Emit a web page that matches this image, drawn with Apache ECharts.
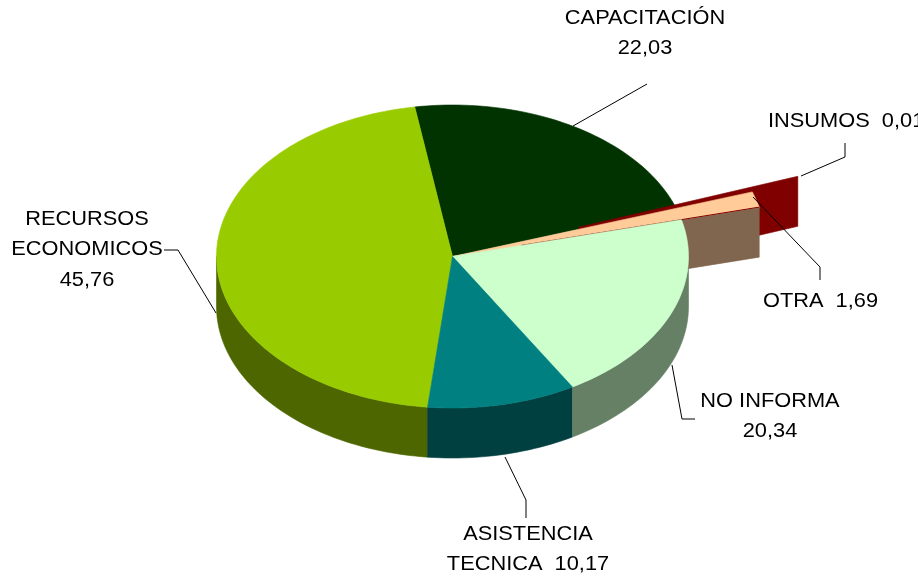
<!DOCTYPE html>
<html>
<head>
<meta charset="utf-8">
<style>html,body{margin:0;padding:0;background:#fff}#c{width:918px;height:580px}</style>
<script src="https://cdn.jsdelivr.net/npm/echarts@6/dist/echarts.min.js"></script>
</head>
<body>
<div id="c"></div>
<script>
// ---- data ----
const categories = ['CAPACITACIÓN', 'INSUMOS', 'OTRA', 'NO INFORMA', 'ASISTENCIA\nTECNICA', 'RECURSOS\nECONOMICOS'];
const values = [22.03, 0.01, 1.69, 20.34, 10.17, 45.76];
const separators = ['\n', '  ', '  ', '\n', '  ', '\n'];

// ---- styles and geometry ----
const topColors = ['#003300', '#800000', '#FFCC99', '#CCFFCC', '#008080', '#99CC00'];
const sideColors = ['#001A00', '#800000', '#80664F', '#668066', '#004040', '#4D6600'];
const reach = [1, 1.556, 1.34, 1, 1, 1];
const CX = 452.5, CY = 256.5, RX = 236, RY = 151.5, DEPTH = 50, START = -9.2;
const PROTRUDE_INSET = [1.3, 0.3]; // the protruding slice sits slightly inside its own angular span

const total = values.reduce((a, b) => a + b, 0);
const bounds = [];
values.reduce((acc, v, i) => { bounds[i] = [acc, acc + v / total * 360]; return acc + v / total * 360; }, START);

function pt(deg, k, drop) {
  const r = deg * Math.PI / 180;
  return [CX + k * RX * Math.sin(r), CY - k * RY * Math.cos(r) + (drop || 0)];
}
function arc(a, b, k, drop) {
  const n = Math.max(2, Math.ceil(Math.abs(b - a) / 1.5)), out = [];
  for (let i = 0; i <= n; i++) out.push(pt(a + (b - a) * i / n, k, drop));
  return out;
}
function poly(points, fill, stroke) {
  return { type: 'polygon', shape: { points }, style: { fill, stroke: stroke || fill, lineWidth: 0.6 } };
}
// paint steps, back to front: [slice index, kind]
const steps = [
  [5, 'wall'], [4, 'wall'], [3, 'wall'],
  [0, 'top'], [5, 'top'],
  [1, 'cut'], [2, 'cut'],
  [2, 'top'], [2, 'edge'],
  [3, 'top'], [4, 'top']
];
function span(i) {
  const [a, b] = bounds[i];
  if (i === 2) return [a + PROTRUDE_INSET[0], b - PROTRUDE_INSET[1]];
  // neighbours close the small angular gaps left by the inset
  if (i === 0) return [a, b + PROTRUDE_INSET[0]];
  if (i === 3) return [a - PROTRUDE_INSET[1], b];
  return [a, b];
}
function renderStep(params) {
  const [i, kind] = steps[params.dataIndex];
  const [a, b] = span(i), k = reach[i];
  if (kind === 'top') {
    return poly([[CX, CY]].concat(arc(a, b, k)), topColors[i]);
  }
  if (kind === 'wall') {
    const from = Math.max(a, 90), to = Math.min(b, 270);
    return poly(arc(from, to, k).concat(arc(to, from, k, DEPTH)), sideColors[i]);
  }
  if (kind === 'cut') {
    // radial cut face of the protruding slice; the insumos sliver only shows from part way out
    const ang = i === 1 ? a : b, f = i === 1 ? 0.365 * k : 0;
    return poly([pt(ang, f), pt(ang, k), pt(ang, k, DEPTH), pt(ang, f, DEPTH)], sideColors[i]);
  }
  // thin dark line under the protruding slice
  return { type: 'polyline', shape: { points: [pt(b, 0.3), pt(b, k)] }, style: { stroke: '#800000', lineWidth: 1, fill: 'none' } };
}

function fmt(v) { return v.toFixed(2).replace('.', ','); }
const labelText = categories.map((c, i) => c + separators[i] + fmt(values[i]));

const FONT = { fontFamily: '"Liberation Sans", Arial, sans-serif', fontSize: 20, fill: '#000', lineHeight: 30.5 };
function label(i, x, y, align) {
  return { type: 'text', x, y, scaleX: 1.09, z: 10, style: Object.assign({ text: labelText[i], align: align || 'center', verticalAlign: 'top' }, FONT) };
}
function leader(points) {
  return { type: 'polyline', z: 9, shape: { points }, style: { stroke: '#000', lineWidth: 1, fill: 'none' } };
}
const chart = echarts.init(document.getElementById('c'), null, { renderer: 'canvas' });
chart.setOption({
  animation: false,
  backgroundColor: '#fff',
  series: [{
    type: 'custom',
    coordinateSystem: 'none',
    silent: true,
    renderItem: renderStep,
    data: steps.map((s, i) => [i])
  }],
  graphic: { elements: [
    label(0, 645, 3),
    label(1, 768, 106, 'left'),
    label(2, 820.5, 286),
    label(3, 770, 386),
    label(4, 528, 519),
    label(5, 87, 204),
    leader([[573, 126], [647, 84]]),
    leader([[801, 176], [845, 157], [845, 143]]),
    leader([[753, 197], [820, 267], [820, 280]]),
    leader([[672, 365], [682, 419], [695, 419]]),
    leader([[505, 457], [526, 500], [526, 518]]),
    leader([[164, 250], [178, 250], [216, 313]])
  ] }
});
</script>
</body>
</html>
